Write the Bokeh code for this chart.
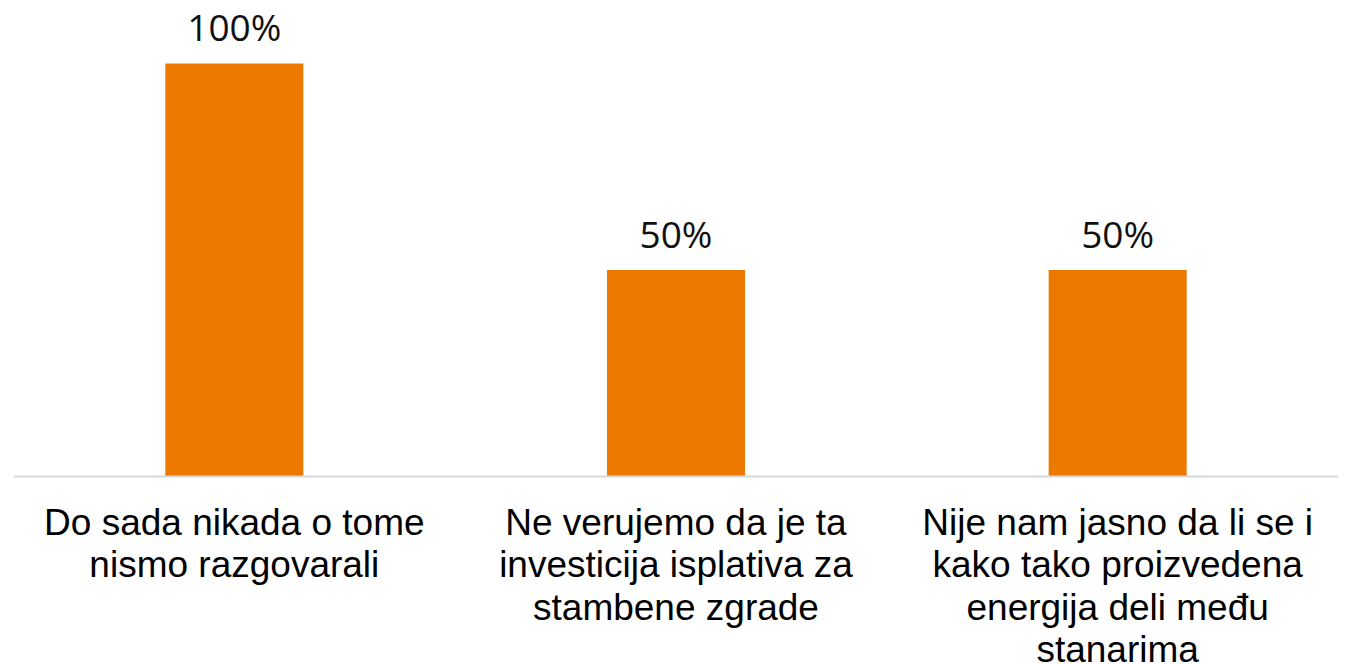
from bokeh.plotting import figure
from bokeh.models import ColumnDataSource, FactorRange, Range1d, Span
from bokeh.core.properties import value
from bokeh.embed import file_html
from bokeh.resources import INLINE

categories = [
    "Do sada nikada o tome\nnismo razgovarali",
    "Ne verujemo da je ta\ninvesticija isplativa za\nstambene zgrade",
    "Nije nam jasno da li se i\nkako tako proizvedena\nenergija deli među\nstanarima",
]
values = [100, 50, 50]
labels = ["100%", "50%", "50%"]

src = ColumnDataSource(dict(cat=categories, val=values, lab=labels, zero=[0] * 3))

p = figure(
    width=1348, height=664,
    x_range=FactorRange(*categories),
    y_range=Range1d(-45.5, 115.25),
    output_backend="svg", toolbar_location=None,
    min_border_left=13, min_border_right=10, min_border_top=0, min_border_bottom=0,
)
p.axis.visible = False
p.grid.visible = False
p.outline_line_color = None
p.background_fill_color = "white"
p.border_fill_color = "white"

p.vbar(x="cat", top="val", width=0.3125, source=src, fill_color="#ED7800", line_color=None)

p.add_layout(Span(location=0, dimension="width", line_color="#D9D9D9", line_width=2))

p.text(x="cat", y="val", text="lab", source=src, text_align="center",
       text_baseline="alphabetic", y_offset=-37,
       text_font=value("Open Sans"), text_font_size="37px", text_color="#111111")

p.text(x="cat", y="zero", text="cat", source=src, text_align="center",
       text_baseline="top", y_offset=25, text_line_height=1.04,
       text_font=value("Liberation Sans"), text_font_size="37px", text_color="#000000")

open("out.html", "w").write(file_html(p, INLINE))
